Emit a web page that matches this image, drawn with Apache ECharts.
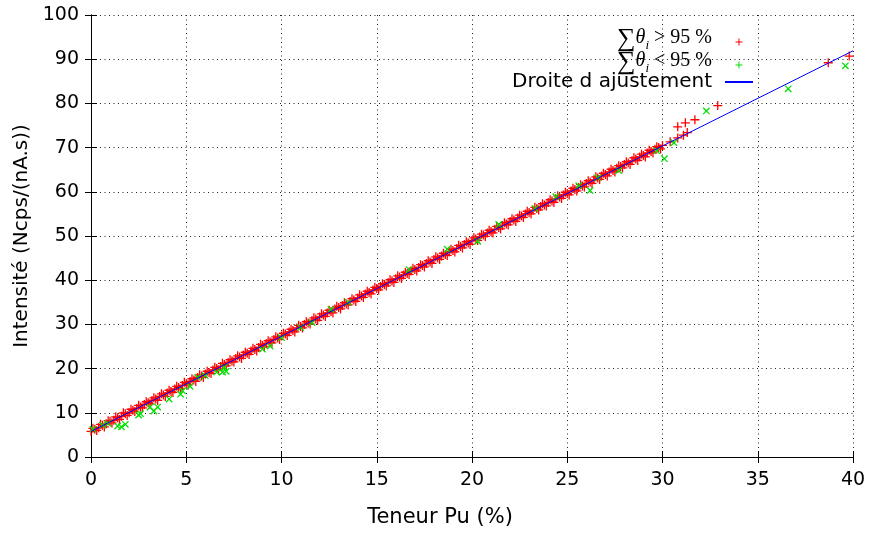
<!DOCTYPE html>
<html>
<head>
<meta charset="utf-8">
<script src="https://cdn.jsdelivr.net/npm/echarts@6/dist/echarts.min.js"></script>
<style>
  html, body { margin: 0; padding: 0; background: #fff; }
  #chart { width: 873px; height: 533px; }
</style>
</head>
<body>
<div id="chart"></div>
<script>
// noms des series / axes
const nameSup = '∑θi > 95 %';
const nameInf = '∑θi < 95 %';
const nameFit = 'Droite d ajustement';
const xName = 'Teneur Pu (%)';
const yName = 'Intensité (Ncps/(nA.s))';

// points  sum(theta_i) > 95 %
const sup95 = [
  [0, 5.8], [0.2, 6.3], [0.4, 6.6], [0.6, 7.2], [0.8, 7.5], [1.0, 8.1], [1.2, 8.3], [1.4, 8.9],
  [1.6, 9.2], [1.8, 9.8], [2.0, 10.0], [2.2, 10.6], [2.4, 11.0], [2.6, 11.3], [2.8, 11.9], [3.0, 12.3],
  [3.2, 12.8], [3.4, 13.1], [3.6, 13.7], [3.8, 14.0], [4.0, 14.5], [4.2, 14.8], [4.4, 15.4], [4.6, 15.7],
  [4.8, 16.2], [5.0, 16.6], [5.2, 17.1], [5.4, 17.4], [5.6, 18.0], [5.8, 18.3], [6.0, 18.8], [6.2, 19.1],
  [6.4, 19.7], [6.6, 20.0], [6.8, 20.5], [7.0, 20.9], [7.2, 21.4], [7.4, 21.7], [7.6, 22.3], [7.8, 22.6],
  [8.0, 23.1], [8.2, 23.5], [8.4, 24.0], [8.6, 24.3], [8.8, 24.8], [9.0, 25.2], [9.2, 25.7], [9.4, 26.0],
  [9.6, 26.6], [9.8, 26.9], [10.0, 27.4], [10.2, 27.8], [10.4, 28.3], [10.6, 28.6], [10.8, 29.2], [11.0, 29.5],
  [11.2, 30.0], [11.4, 30.3], [11.6, 30.9], [11.8, 31.2], [12.0, 31.7], [12.2, 32.1], [12.4, 32.6], [12.6, 32.9],
  [12.8, 33.5], [13.0, 33.8], [13.2, 34.3], [13.4, 34.6], [13.6, 35.2], [13.8, 35.5], [14.0, 36.0], [14.2, 36.4],
  [14.4, 36.9], [14.6, 37.2], [14.8, 37.8], [15.0, 38.1], [15.2, 38.6], [15.4, 39.0], [15.6, 39.5], [15.8, 39.8],
  [16.0, 40.3], [16.2, 40.7], [16.4, 41.2], [16.6, 41.5], [16.8, 42.1], [17.0, 42.4], [17.2, 42.9], [17.4, 43.3],
  [17.6, 43.8], [17.8, 44.1], [18.0, 44.7], [18.2, 45.0], [18.4, 45.5], [18.6, 45.8], [18.8, 46.4], [19.0, 46.7],
  [19.2, 47.2], [19.4, 47.6], [19.6, 48.1], [19.8, 48.4], [20.0, 49.0], [20.2, 49.3], [20.4, 49.8], [20.6, 50.2],
  [20.8, 50.7], [21.0, 51.0], [21.2, 51.5], [21.4, 51.9], [21.6, 52.4], [21.8, 52.7], [22.0, 53.3], [22.2, 53.6],
  [22.4, 54.1], [22.6, 54.5], [22.8, 55.0], [23.0, 55.3], [23.2, 55.8], [23.4, 56.2], [23.6, 56.7], [23.8, 57.0],
  [24.0, 57.6], [24.2, 57.9], [24.4, 58.4], [24.6, 58.8], [24.8, 59.3], [25.0, 59.6], [25.2, 60.2], [25.4, 60.5],
  [25.6, 61.0], [25.8, 61.3], [26.0, 61.9], [26.2, 62.2], [26.4, 62.7], [26.6, 63.1], [26.8, 63.6], [27.0, 63.9],
  [27.2, 64.5], [27.4, 64.8], [27.6, 65.3], [27.8, 65.7], [28.0, 66.2], [28.2, 66.5], [28.4, 67.0], [28.6, 67.4],
  [28.8, 67.9], [29.0, 68.2], [29.2, 68.8], [29.4, 69.1], [29.6, 69.6], [29.8, 70.0], [30.0, 70.5], [30.4, 71.3],
  [30.8, 72.2], [31.1, 72.8], [31.3, 73.4],
  [30.8, 74.7], [31.2, 75.6], [31.7, 76.3], [32.9, 79.5], [38.7, 89.2], [39.8, 90.7],
  // bande dense : points intermediaires de part et d'autre de la droite
  [0.1, 6.5], [0.3, 6.0], [0.5, 7.4], [0.7, 6.8], [0.9, 8.2], [1.1, 7.7], [1.3, 9.1], [1.5, 8.5],
  [1.7, 10.0], [1.9, 9.4], [2.1, 10.8], [2.3, 10.3], [2.5, 11.7], [2.7, 11.1], [2.9, 12.5], [3.1, 12.0],
  [3.3, 13.4], [3.5, 12.8], [3.7, 14.3], [3.9, 13.7], [4.1, 15.1], [4.3, 14.6], [4.5, 16.0], [4.7, 15.4],
  [4.9, 16.9], [5.1, 16.3], [5.3, 17.7], [5.5, 17.1], [5.7, 18.6], [5.9, 18.0], [6.1, 19.4], [6.3, 18.9],
  [6.5, 20.3], [6.7, 19.7], [6.9, 21.2], [7.1, 20.6], [7.3, 22.0], [7.5, 21.5], [7.7, 22.9], [7.9, 22.3],
  [8.1, 23.7], [8.3, 23.2], [8.5, 24.6], [8.7, 24.0], [8.9, 25.5], [9.1, 24.9], [9.3, 26.3], [9.5, 25.8],
  [9.7, 27.2], [9.9, 26.6], [10.1, 28.0], [10.3, 27.5], [10.5, 28.9], [10.7, 28.3], [10.9, 29.8], [11.1, 29.2],
  [11.3, 30.6], [11.5, 30.1], [11.7, 31.5], [11.9, 30.9], [12.1, 32.4], [12.3, 31.8], [12.5, 33.2], [12.7, 32.6],
  [12.9, 34.1], [13.1, 33.5], [13.3, 34.9], [13.5, 34.4], [13.7, 35.8], [13.9, 35.2], [14.1, 36.7], [14.3, 36.1],
  [14.5, 37.5], [14.7, 36.9], [14.9, 38.4], [15.1, 37.8], [15.3, 39.2], [15.5, 38.7], [15.7, 40.1], [15.9, 39.5],
  [16.1, 41.0], [16.3, 40.4], [16.5, 41.8], [16.7, 41.3], [16.9, 42.7], [17.1, 42.1], [17.3, 43.5], [17.5, 43.0],
  [17.7, 44.4], [17.9, 43.8], [18.1, 45.3], [18.3, 44.7], [18.5, 46.1], [18.7, 45.6], [18.9, 47.0], [19.1, 46.4],
  [19.3, 47.9], [19.5, 47.3], [19.7, 48.7], [19.9, 48.1], [20.1, 49.6], [20.3, 49.0], [20.5, 50.4], [20.7, 49.9],
  [20.9, 51.3], [21.1, 50.7], [21.3, 52.2], [21.5, 51.6], [21.7, 53.0], [21.9, 52.5], [22.1, 53.9], [22.3, 53.3],
  [22.5, 54.7], [22.7, 54.2], [22.9, 55.6], [23.1, 55.0], [23.3, 56.5], [23.5, 55.9], [23.7, 57.3], [23.9, 56.8],
  [24.1, 58.2], [24.3, 57.6], [24.5, 59.1], [24.7, 58.5], [24.9, 59.9], [25.1, 59.3], [25.3, 60.8], [25.5, 60.2],
  [25.7, 61.6], [25.9, 61.1], [26.1, 62.5], [26.3, 61.9], [26.5, 63.4], [26.7, 62.8], [26.9, 64.2], [27.1, 63.6],
  [27.3, 65.1], [27.5, 64.5], [27.7, 65.9], [27.9, 65.4], [28.1, 66.8], [28.3, 66.2], [28.5, 67.7], [28.7, 67.1],
  [28.9, 68.5], [29.1, 67.9], [29.3, 69.4], [29.5, 68.8], [29.7, 70.2], [29.9, 69.7]
];

// points  sum(theta_i) < 95 %
const inf95 = [
  [0.1, 6.3], [0.6, 7.2], [0.9, 7.6], [1.4, 7.0], [1.6, 6.8], [1.8, 7.4], [2.5, 9.5], [2.6, 9.8],
  [3.1, 11.3], [3.3, 10.4], [3.5, 11.3], [4.1, 13.1], [4.7, 14.2], [4.8, 15.0], [5.2, 16.0], [5.6, 18.0],
  [6.0, 18.4], [6.6, 19.2], [6.9, 19.2], [7.1, 19.4], [7.0, 20.3], [9.0, 24.4], [9.4, 25.1], [10.0, 27.0],
  [11.0, 29.3], [11.6, 30.4], [12.6, 33.4], [13.5, 35.0], [16.7, 42.4], [18.7, 47.0], [20.3, 48.8], [21.4, 52.6],
  [23.3, 56.2], [24.4, 58.9], [25.6, 61.4], [26.2, 60.3], [26.6, 63.2], [27.7, 64.8], [29.7, 69.3], [30.1, 67.5],
  [30.6, 71.1], [32.3, 78.3], [36.6, 83.3], [39.6, 88.5]
];

// droite d'ajustement
const fitLine = [[0, 5.8], [40, 91.9]];

const plusPath = 'path://M3,0H4V3H7V4H4V7H3V4H0V3H3Z';
const sans = 'DejaVu Sans';
const serif = 'Liberation Serif';

const chart = echarts.init(document.getElementById('chart'));

const dotted = { color: '#222', width: 1, type: [1, 3.5] };

const option = {
  animation: false,
  backgroundColor: '#fff',
  grid: { left: 91, right: 20, top: 15, bottom: 75 },
  legend: {
    orient: 'vertical',
    right: 119,
    top: 26,
    padding: 0,
    align: 'right',
    itemWidth: 28,
    itemHeight: 7,
    itemGap: -3,
    data: [nameSup, nameInf, { name: nameFit, itemStyle: { opacity: 0 } }],
    formatter: (name) => {
      if (name === nameSup) return '{sig|∑}{th|θ}{sub|i}{txt| > 95 %}';
      if (name === nameInf) return '{sig|∑}{th|θ}{sub|i}{txt| < 95 %}';
      return '{dr|' + name + '}';
    },
    textStyle: {
      rich: {
        sig: { fontFamily: serif, fontSize: 26, lineHeight: 20, verticalAlign: 'bottom', color: '#000' },
        th: { fontFamily: serif, fontStyle: 'italic', fontSize: 20, lineHeight: 16, padding: [0, 0, 4, 0], verticalAlign: 'bottom', color: '#000' },
        sub: { fontFamily: serif, fontStyle: 'italic', fontSize: 13, lineHeight: 14, verticalAlign: 'bottom', color: '#000' },
        txt: { fontFamily: serif, fontSize: 20, lineHeight: 16, padding: [0, 8, 4, 0], verticalAlign: 'bottom', color: '#000' },
        dr: { fontFamily: sans, fontSize: 20, lineHeight: 20, padding: [0, 8, 0, 0], color: '#000' }
      }
    }
  },
  xAxis: [
    {
      type: 'value', min: 0, max: 40, interval: 5,
      name: xName, nameLocation: 'middle', nameGap: 50,
      nameTextStyle: { fontFamily: sans, fontSize: 21, color: '#000', padding: [0, 64, 0, 0] },
      axisLine: { show: true, lineStyle: { color: '#000', width: 1 } },
      axisTick: { inside: true, length: 6, lineStyle: { color: '#000' } },
      axisLabel: { fontFamily: sans, fontSize: 19, color: '#000', margin: 14 },
      splitLine: { show: true, lineStyle: dotted }
    },
    {
      type: 'value', min: 0, max: 40, interval: 5, position: 'top',
      axisLine: { show: true, lineStyle: { color: '#000', width: 1 } },
      axisTick: { inside: true, length: 6, lineStyle: { color: '#000' } },
      axisLabel: { show: false },
      splitLine: { show: false }
    }
  ],
  yAxis: [
    {
      type: 'value', min: 0, max: 100, interval: 10,
      name: yName, nameLocation: 'middle', nameGap: 58,
      nameTextStyle: { fontFamily: sans, fontSize: 20, color: '#000' },
      axisLine: { show: true, lineStyle: { color: '#000', width: 1 } },
      axisTick: { inside: true, length: 6, lineStyle: { color: '#000' } },
      axisLabel: { fontFamily: sans, fontSize: 19, color: '#000', margin: 12 },
      splitLine: { show: true, lineStyle: dotted }
    },
    {
      type: 'value', min: 0, max: 100, interval: 10, position: 'right',
      axisLine: { show: true, lineStyle: { color: '#000', width: 1 } },
      axisTick: { inside: true, length: 6, lineStyle: { color: '#000' } },
      axisLabel: { show: false },
      splitLine: { show: false }
    }
  ],
  series: [
    {
      name: nameSup,
      type: 'scatter',
      data: sup95,
      symbol: plusPath,
      symbolSize: 9,
      itemStyle: { color: '#ff0000', opacity: 1 }
    },
    {
      name: nameInf,
      type: 'scatter',
      data: inf95,
      symbol: plusPath,
      symbolRotate: 45,
      symbolSize: 9,
      itemStyle: { color: '#00e000', opacity: 1 }
    },
    {
      name: nameFit,
      type: 'line',
      data: fitLine,
      symbol: 'none',
      lineStyle: { color: '#0000ff', width: 1 },
      itemStyle: { color: '#0000ff' }
    }
  ]
};

chart.setOption(option);
</script>
</body>
</html>
